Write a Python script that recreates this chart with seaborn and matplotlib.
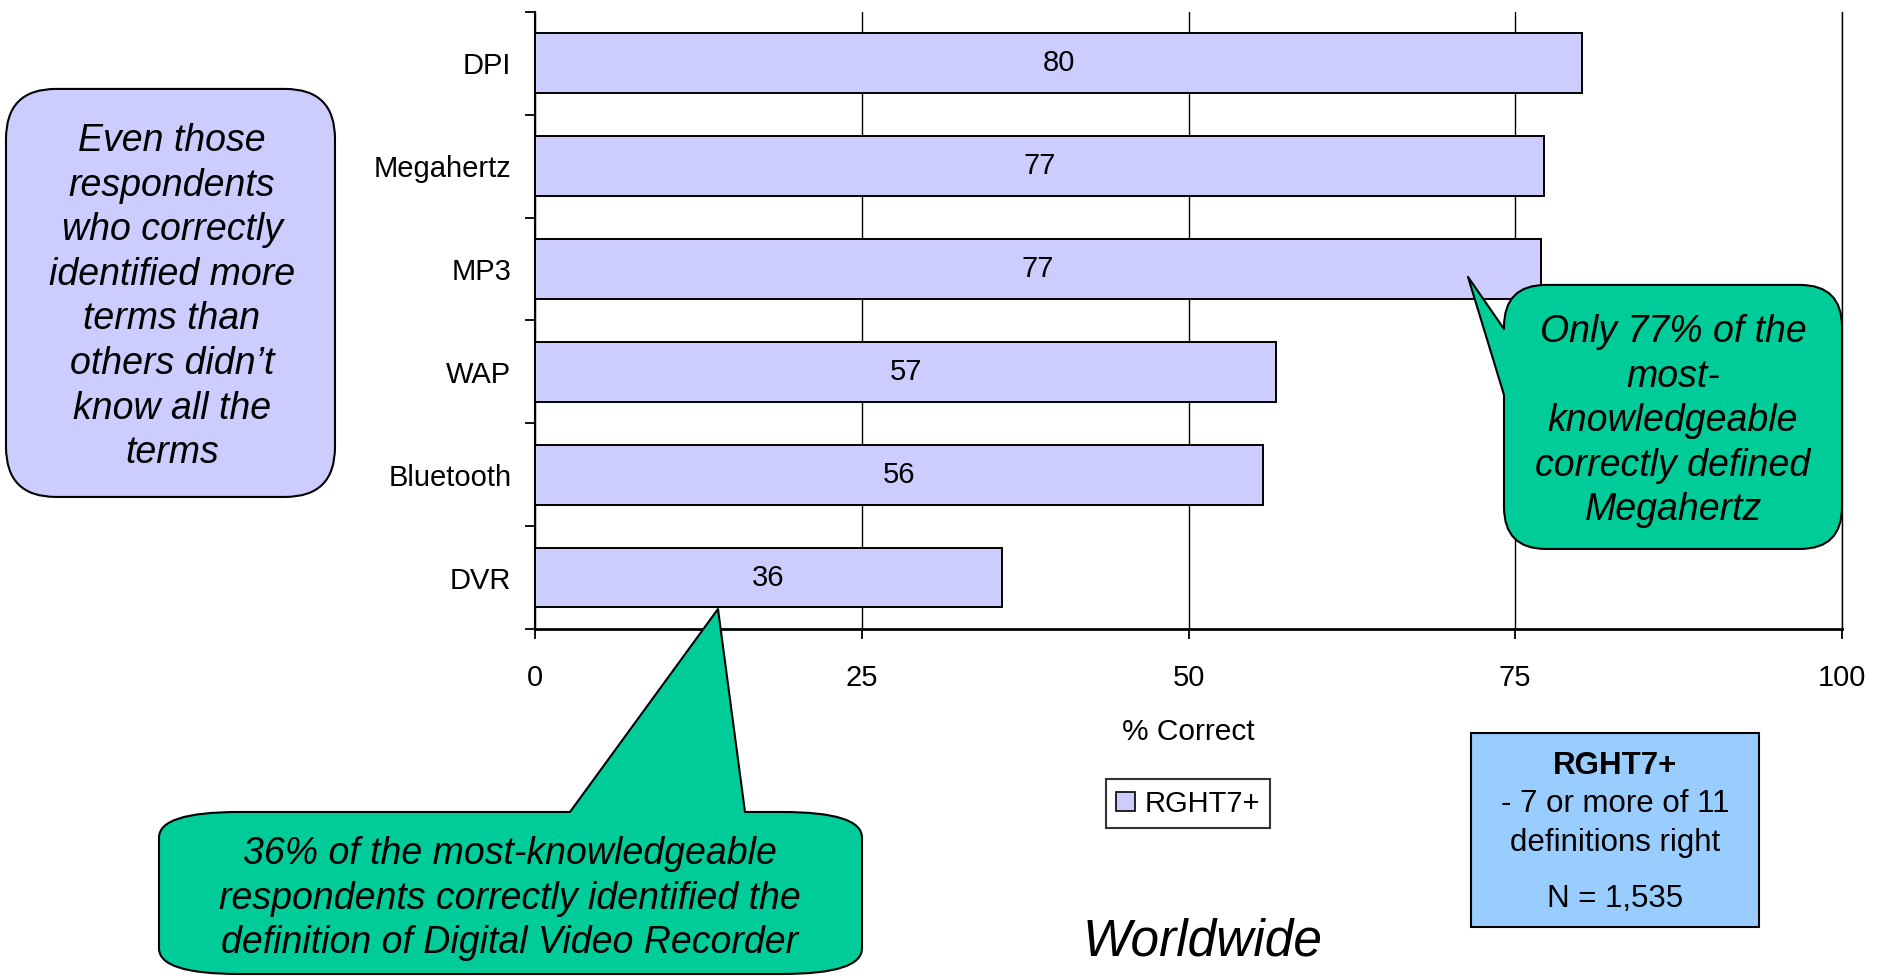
import matplotlib
matplotlib.use("Agg")
import matplotlib.pyplot as plt
import numpy as np
import pandas as pd
import seaborn as sns
from matplotlib.patches import FancyBboxPatch, Polygon, Rectangle, Patch

# Data
categories = ["DPI", "Megahertz", "MP3", "WAP", "Bluetooth", "DVR"]
pct_correct = [80.1, 77.2, 77.0, 56.7, 55.7, 35.7]
x_ticks = [0, 25, 50, 75, 100]
series_name = "RGHT7+"

left_note = ["Even those", "respondents", "who correctly", "identified more",
             "terms than", "others didn\u2019t", "know all the", "terms"]
right_note = ["Only 77% of the", "most-", "knowledgeable",
              "correctly defined", "Megahertz"]
bottom_note = ["36% of the most-knowledgeable",
               "respondents correctly identified the",
               "definition of Digital Video Recorder"]
info_lines = ["- 7 or more of 11", "definitions right"]

LAVENDER = "#CCCCFF"
GREEN = "#00CC99"
SKY = "#99CCFF"

sns.set_style("white")
plt.rcParams["font.family"] = ["Liberation Sans", "DejaVu Sans"]
plt.rcParams.update({"text.color": "black", "axes.labelcolor": "black",
                     "xtick.color": "black", "ytick.color": "black"})

W, H = 1887, 978
fig = plt.figure(figsize=(W / 100, H / 100 + 0.001), dpi=100)
ax = fig.add_axes([535 / W, 1 - 629 / H, (1842 - 535) / W, (629 - 12) / H])

df = pd.DataFrame({"term": categories, "pct": pct_correct})
sns.barplot(data=df, x="pct", y="term", color=LAVENDER, edgecolor="black",
            linewidth=1.4, width=0.58, saturation=1, ax=ax, zorder=3)
ax.bar_label(ax.containers[0], labels=[f"{v:.0f}" for v in pct_correct],
             label_type="center", fontsize=21, color="black")

ax.set_xlim(0, 100)
ax.set_ylim(len(categories) - 0.5, -0.5)
ax.set_xticks(x_ticks)
ax.set_xticklabels([str(t) for t in x_ticks])
ax.set_yticks(np.arange(len(categories)))
ax.set_yticks(np.arange(len(categories) + 1) - 0.5, minor=True)
ax.tick_params(axis="y", which="major", length=0, pad=17, labelsize=21)
ax.tick_params(axis="y", which="minor", length=7.2, width=1.3, direction="out", left=True)
ax.tick_params(axis="x", which="major", length=7.2, width=1.3, direction="out",
               bottom=True, pad=18, labelsize=21)
ax.xaxis.grid(True, color="black", linewidth=1.0, zorder=0)
ax.yaxis.grid(False)
ax.set_ylabel("")
ax.set_xlabel("% Correct", fontsize=21.5, labelpad=19)

ax.spines["top"].set_visible(False)
ax.spines["right"].set_linewidth(1.0)
ax.spines["left"].set_linewidth(1.5)
ax.spines["bottom"].set_linewidth(2.0)
for s in ax.spines.values():
    s.set_color("black")

leg = fig.legend(handles=[Patch(facecolor=LAVENDER, edgecolor="black", linewidth=1.2)],
                 labels=[series_name], loc="center",
                 bbox_to_anchor=(1188 / W, 1 - 803.5 / H), fontsize=21,
                 frameon=True, fancybox=False, handlelength=0.65, handleheight=0.62,
                 handletextpad=0.34, borderpad=0.35, borderaxespad=0)
leg.get_frame().set_edgecolor("black")
leg.get_frame().set_linewidth(1.5)

# overlay in pixel coordinates for the callouts
ov = fig.add_axes([0, 0, 1, 1], zorder=10)
ov.set_xlim(0, W)
ov.set_ylim(H, 0)
ov.axis("off")
ov.patch.set_alpha(0)


def put_lines(lines, cx, y0, dy, **kw):
    for i, line in enumerate(lines):
        ov.text(cx, y0 + i * dy, line, ha="center", va="center", **kw)


def callout(x0, y0, w, h, r, aspect, tip, base, color):
    box = FancyBboxPatch((x0 + r, y0 + r * aspect), w - 2 * r, h - 2 * r * aspect,
                         boxstyle=f"round,pad={r},rounding_size={r}",
                         mutation_aspect=aspect, facecolor=color,
                         edgecolor="black", linewidth=1.5)
    ov.add_patch(box)
    if tip is None:
        return
    (bx1, by1), (bx2, by2), (ix, iy) = base
    ov.add_patch(Polygon([tip, (bx1, by1), (bx1 + ix, by1 + iy),
                          (bx2 + ix, by2 + iy), (bx2, by2)],
                         closed=True, facecolor=color, edgecolor="none"))
    ov.plot([bx1, tip[0], bx2], [by1, tip[1], by2], color="black", linewidth=1.5)


# left note
callout(6, 89, 329, 408, 50, 1.0, None, None, LAVENDER)
put_lines(left_note, 172, 141, 44.6, fontsize=27, style="italic")

# right note about Megahertz
callout(1504, 285, 338, 264, 42, 1.0, (1468, 277),
        ((1504, 329), (1504, 395), (4, 0)), GREEN)
put_lines(right_note, 1673, 332, 44.6, fontsize=27, style="italic")

# bottom note about DVR
callout(159, 812, 703, 162, 80, 0.32, (718, 609),
        ((570, 812), (745, 812), (0, 4)), GREEN)
put_lines(bottom_note, 510, 854, 44.6, fontsize=27, style="italic")

# info box
ov.add_patch(Rectangle((1471, 733), 288, 194, facecolor=SKY, edgecolor="black", linewidth=1.5))
ov.text(1615, 766, series_name, ha="center", va="center", fontsize=22.5, fontweight="bold")
put_lines(info_lines, 1615, 804, 39, fontsize=22.5)
ov.text(1615, 899, "N = 1,535", ha="center", va="center", fontsize=22.5)

ov.text(1203, 955, "Worldwide", ha="center", va="baseline", fontsize=37, style="italic")

fig.savefig("out.png", dpi=100)
